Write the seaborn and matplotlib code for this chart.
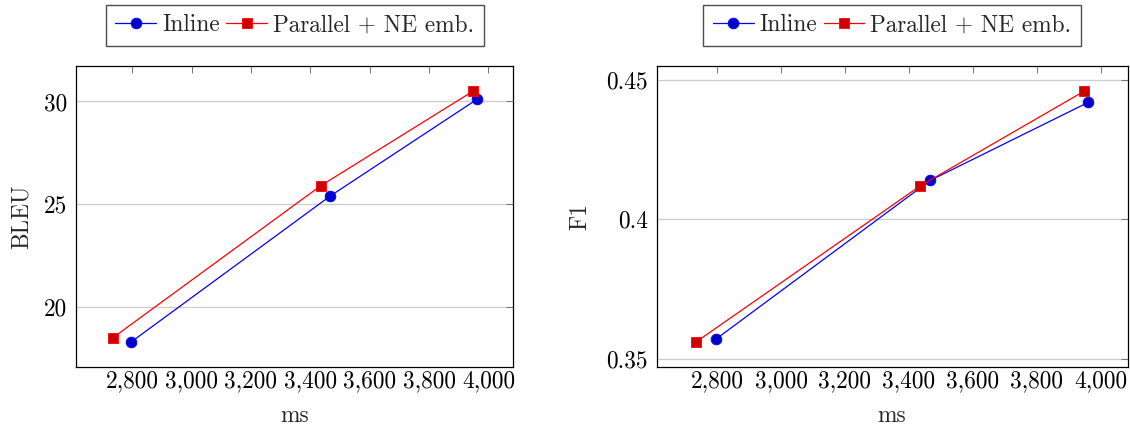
import matplotlib
matplotlib.use("Agg")
import matplotlib.pyplot as plt
import matplotlib.ticker as mticker
from matplotlib.lines import Line2D
import pandas as pd
import seaborn as sns

# Latency (ms) and scores for the two systems
systems = ["Inline", "Parallel + NE emb."]
inline_ms = [2796, 3467, 3961]
parallel_ms = [2734, 3435, 3948]
inline_bleu = [18.3, 25.4, 30.1]
parallel_bleu = [18.5, 25.9, 30.5]
inline_f1 = [0.357, 0.414, 0.442]
parallel_f1 = [0.356, 0.412, 0.446]

x_ticks = [2800, 3000, 3200, 3400, 3600, 3800, 4000]
bleu_ticks = [20, 25, 30]
f1_ticks = [0.35, 0.40, 0.45]

df = pd.DataFrame({
    "ms": inline_ms + parallel_ms,
    "BLEU": inline_bleu + parallel_bleu,
    "F1": inline_f1 + parallel_f1,
    "system": [systems[0]] * 3 + [systems[1]] * 3,
})

sns.set_theme(style="white")
FS = 16.8
plt.rcParams.update({
    "font.family": "serif",
    "font.serif": ["cmr10"],
    "mathtext.fontset": "cm",
    "axes.formatter.use_mathtext": True,
    "axes.unicode_minus": False,
    "font.size": FS,
})

line_colors = {systems[0]: (0, 0, 1), systems[1]: (1, 0, 0)}
face_colors = {systems[0]: (0, 0, 0.8), systems[1]: (0.8, 0, 0)}
marker_map = {systems[0]: "o", systems[1]: "s"}
marker_size = {systems[0]: 7.7, systems[1]: 7.2}

fig = plt.figure(figsize=(11.3, 4.29), dpi=100)
ax1 = fig.add_axes([0.0675, 0.1443, 0.3867, 0.7016])
ax2 = fig.add_axes([0.5812, 0.1443, 0.4166, 0.7016])

panels = [(ax1, "BLEU", bleu_ticks, 8.5), (ax2, "F1", f1_ticks, 11)]
for ax, metric, yticks, ypad in panels:
    ax.set_axisbelow(True)
    handles = []
    for s in systems:
        sub = df[df["system"] == s]
        sns.lineplot(data=sub, x="ms", y=metric, ax=ax, color=line_colors[s],
                     marker=marker_map[s], markersize=marker_size[s],
                     linewidth=0.9, sort=False, estimator=None, legend=False)
        ln = ax.lines[-1]
        ln.set_markerfacecolor(face_colors[s])
        ln.set_markeredgecolor(line_colors[s])
        ln.set_markeredgewidth(0.6)
        handles.append(Line2D([], [], color=line_colors[s], linewidth=0.9,
                              marker=marker_map[s], markersize=marker_size[s],
                              markerfacecolor=face_colors[s],
                              markeredgecolor=line_colors[s], markeredgewidth=0.6))
    ax.margins(x=0.1, y=0.1)
    ax.set_xticks(x_ticks)
    ax.set_yticks(yticks)
    ax.xaxis.set_major_formatter(mticker.FuncFormatter(lambda v, p: f"{v:,.0f}"))
    ax.yaxis.set_major_formatter(mticker.FuncFormatter(lambda v, p: f"{v:g}"))
    ax.grid(axis="y", color="#cccccc", linewidth=0.9)
    ax.grid(axis="x", visible=False)
    ax.tick_params(direction="in", top=True, right=True, length=5, width=0.7,
                   color="0.45", labelsize=FS, labelcolor="black")
    ax.tick_params(axis="x", pad=2)
    ax.tick_params(axis="y", pad=6.5)
    for sp in ax.spines.values():
        sp.set_color("black")
        sp.set_linewidth(0.9)
    ax.set_xlabel("ms", fontsize=FS, labelpad=9.5)
    ax.set_ylabel(metric, fontsize=FS, labelpad=ypad)
    leg = ax.legend(handles, systems, loc="lower center", bbox_to_anchor=(0.5, 1.068),
                    ncol=2, frameon=True, fancybox=False, framealpha=1,
                    edgecolor="0.3", borderaxespad=0, handlelength=1.75,
                    handletextpad=0.26, columnspacing=0.27, borderpad=0.4,
                    fontsize=FS)
    leg.get_frame().set_linewidth(1.0)

fig.savefig("out.png", dpi=100)
